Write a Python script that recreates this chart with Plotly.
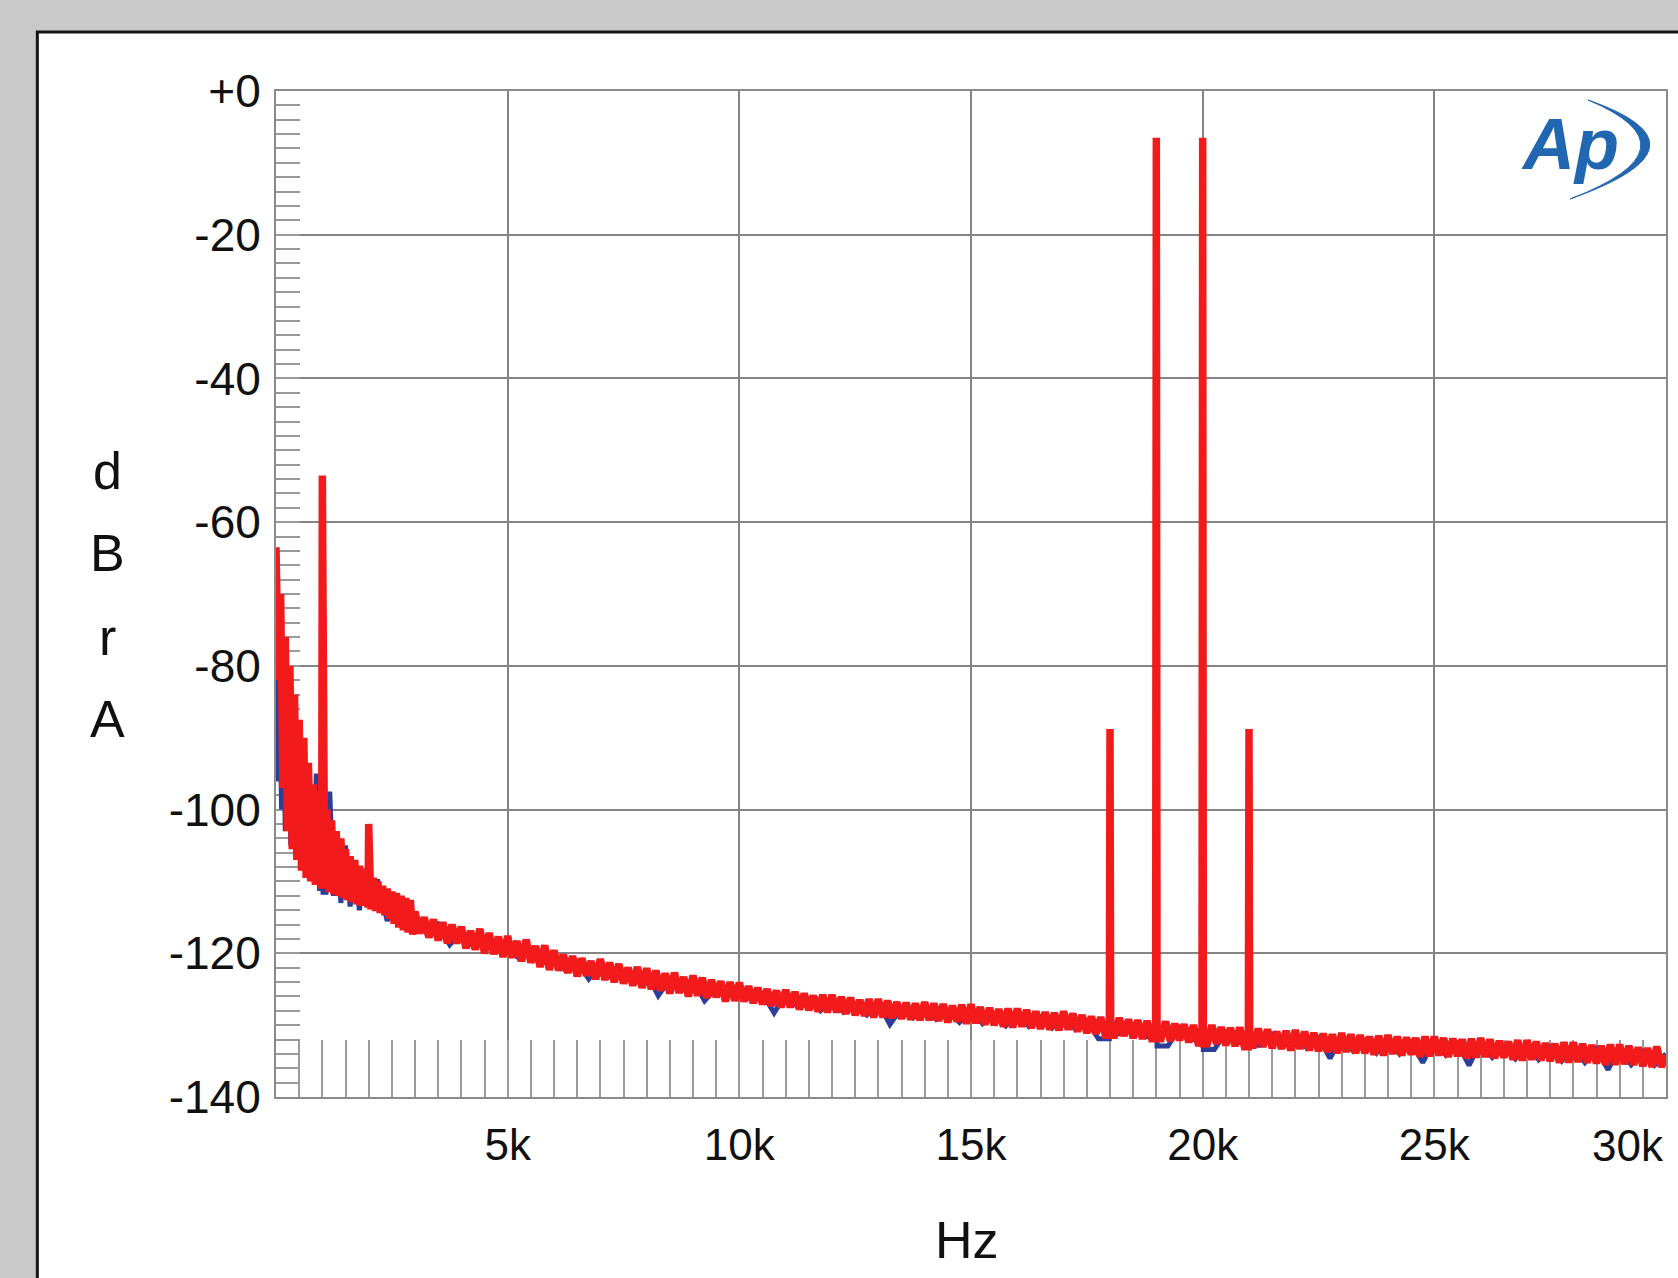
import plotly.graph_objects as go

# ---------------- data ----------------
# Low-frequency part of the red channel (Hz, dBrA)
red_lf_freq = [0, 50, 100, 150, 200, 250, 300, 350, 400, 450, 500, 550, 600, 650, 700, 750,
               800, 850, 900, 950, 1050, 1100, 1150, 1200, 1250, 1300, 1350, 1400, 1450,
               1500, 1550, 1600, 1650, 1700, 1750, 1800, 1850, 1900, 1950, 2050, 2100,
               2150, 2200, 2250, 2300, 2350, 2400, 2450, 2500, 2550, 2600, 2650, 2700,
               2750, 2800, 2850, 2900, 2950]
red_lf_db = [-63.5, -82, -70, -97, -76, -103, -80, -105.5, -84, -107, -87.5, -108.5, -90,
             -109.5, -93.5, -110, -96.5, -110.5, -97.5, -111, -111, -100, -111.5, -101.5,
             -111.8, -103, -112, -104, -112.3, -105.5, -112.6, -106.5, -112.9, -107,
             -113.2, -107.8, -113.4, -108.3, -113.6, -113.9, -109.5, -114.1, -110, -114.4,
             -110.6, -114.7, -111, -115.2, -111.4, -115.9, -111.6, -116.4, -112.0, -116.8,
             -112.3, -117.1, -112.6, -117.4]

# Red channel noise floor, 3 kHz .. 30 kHz every 100 Hz
red_hf_db = [
    -114.2, -117.2, -115.0, -117.8, -115.3, -118.2, -115.7, -118.6, -116.0, -118.6,
    -116.3, -119.3, -116.9, -119.5, -116.6, -120.0, -117.2, -120.1, -117.7, -120.5,
    -117.6, -120.6, -118.3, -121.1, -118.1, -121.3, -119.0, -121.9, -118.9, -122.3,
    -119.6, -122.4, -120.2, -122.7, -120.4, -123.2, -120.7, -123.1, -121.1, -123.6,
    -120.8, -123.7, -121.3, -124.0, -121.5, -124.2, -122.0, -124.5, -121.9, -124.8,
    -122.1, -125.0, -122.4, -125.2, -122.8, -125.6, -122.7, -125.5, -123.3, -126.0,
    -123.1, -125.9, -123.4, -126.2, -123.7, -126.1, -123.9, -126.7, -124.0, -126.6,
    -124.1, -126.7, -124.6, -126.9, -124.8, -127.1, -125.0, -127.3, -125.2, -127.5,
    -125.1, -127.5, -125.4, -127.8, -125.6, -127.9, -125.9, -128.1, -125.8, -128.2,
    -125.8, -128.2, -126.1, -128.4, -126.2, -128.6, -126.5, -128.7, -126.4, -128.9,
    -126.4, -128.9, -126.6, -129.0, -126.8, -129.1, -126.9, -129.2, -127.0, -129.3,
    -126.8, -129.3, -127.0, -129.4, -127.1, -129.6, -127.3, -129.5, -127.2, -129.8,
    -127.1, -129.7, -127.5, -129.9, -127.6, -130.0, -127.8, -130.2, -127.7, -130.3,
    -127.7, -130.2, -127.9, -130.4, -128.1, -130.5, -128.2, -130.6, -128.3, -130.7,
    -128.1, -130.6, -128.4, -130.9, -128.6, -131.1, -128.8, -131.2, -128.9, -131.4,
    -128.8, -131.4, -129.0, -131.5, -129.2, -131.8, -129.3, -131.9, -129.4, -131.9,
    -129.3, -131.9, -129.5, -132.2, -129.8, -132.1, -129.9, -132.4, -130.0, -132.5,
    -129.8, -132.6, -130.0, -132.6, -130.3, -132.8, -130.4, -132.9, -130.3, -133.0,
    -130.2, -132.8, -130.5, -133.0, -130.6, -133.2, -130.9, -133.3, -130.8, -133.5,
    -130.7, -133.3, -130.9, -133.5, -131.1, -133.6, -131.2, -133.7, -131.3, -133.9,
    -131.1, -133.7, -131.3, -133.9, -131.4, -133.9, -131.6, -134.1, -131.5, -134.2,
    -131.4, -134.0, -131.6, -134.2, -131.7, -134.1, -131.8, -134.4, -131.6, -134.3,
    -131.6, -134.2, -131.8, -134.4, -131.9, -134.3, -132.0, -134.6, -131.9, -134.5,
    -131.8, -134.4, -132.0, -134.6, -132.2, -134.5, -132.3, -134.8, -132.1, -134.9,
    -132.1, -134.8, -132.3, -134.9, -132.5, -135.0, -132.6, -135.2, -132.4, -135.2,
    -132.4, -135.1, -132.6, -135.2, -132.8, -135.3, -132.9, -135.5, -132.7, -135.5,
    -132.7, -135.4, -132.9, -135.5, -133.1, -135.7, -133.2, -135.8, -133.0, -135.8,
    -134.2]

# Blue channel
blue_lf_freq = [0, 40, 80, 120, 160, 200, 260, 320, 400, 480, 560, 640, 720, 800, 870, 940,
                1000, 1080, 1160, 1240, 1320, 1400, 1500, 1600, 1700, 1800, 1900, 2000,
                2200, 2400, 2600, 2800]
blue_lf_db = [-66, -96, -84, -100, -86, -103, -88, -105, -90, -107, -92, -109, -95, -110,
              -95, -111, -99, -111.5, -97.5, -112, -103, -113, -105, -113.5, -107.5, -114,
              -108.5, -114.5, -110, -115.5, -112, -116.5]
# 3 kHz .. 30 kHz every 250 Hz
blue_hf_db = [
    -115.0, -117.2, -116.0, -118.8, -117.0, -119.0, -118.0, -119.6,
    -118.6, -120.8, -119.8, -121.4, -120.4, -122.4, -121.2, -123.6,
    -121.6, -123.4, -122.6, -124.1, -122.8, -125.9, -123.6, -125.2,
    -123.8, -126.6, -124.8, -126.0, -124.8, -126.5, -125.6, -128.3,
    -125.7, -127.4, -126.4, -128.0, -126.4, -128.2, -127.2, -128.6,
    -126.9, -129.9, -127.6, -129.0, -127.4, -129.2, -128.0, -129.6,
    -127.8, -129.8, -128.6, -130.1, -128.2, -130.2, -128.9, -130.4,
    -128.7, -130.6, -129.4, -131.9, -129.4, -131.2, -130.0, -131.6,
    -129.8, -132.9, -130.4, -132.0, -130.3, -133.4, -131.0, -132.4,
    -130.7, -132.8, -131.3, -132.9, -131.2, -133.2, -131.8, -134.6,
    -131.6, -133.6, -132.1, -133.9, -131.9, -134.0, -132.4, -135.2,
    -132.1, -134.2, -132.6, -135.6, -132.3, -134.5, -132.9, -134.7,
    -132.6, -134.8, -133.1, -135.0, -133.0, -135.2, -133.4, -136.2,
    -133.2, -135.5, -133.7, -135.6, -134.0]

# discrete tones / spurs (Hz, dBrA)
spike_freq = [1000, 2000, 18000, 19000, 20000, 21000]
spike_db = [-53.5, -102.0, -88.8, -6.5, -6.5, -88.8]

y_tick_vals = [0, -20, -40, -60, -80, -100, -120, -140]
y_tick_text = ["+0", "-20", "-40", "-60", "-80", "-100", "-120", "-140"]
x_tick_vals = [5000, 10000, 15000, 20000, 25000]
x_tick_text = ["5k", "10k", "15k", "20k", "25k"]
x_last_label = "30k"
y_title_letters = ["d", "B", "r", "A"]

# ---------------- helpers ----------------
W, H = 1678, 1278
L, R, T, B = 276, 10, 91, 181
PW, PH = W - L - R, H - T - B


def px(x):
    return (x - L) / PW


def py(y):
    return (H - B - y) / PH


def with_spikes(xs, ys, sf, sd, half=15):
    pts = list(zip(xs, ys))
    for f, d in zip(sf, sd):
        pts = [p for p in pts if abs(p[0] - f) > half + 5]
        left = [p for p in pts if p[0] < f]
        right = [p for p in pts if p[0] > f]
        lv = left[-1][1] if left else d
        rv = right[0][1] if right else d
        pts += [(f - half, lv), (f, d), (f + half, rv)]
        pts.sort(key=lambda p: p[0])
    return [p[0] for p in pts], [p[1] for p in pts]


red_hf_freq = [3000 + 100 * i for i in range(len(red_hf_db))]
blue_hf_freq = [3000 + 250 * i for i in range(len(blue_hf_db))]

rx, ry = with_spikes(red_lf_freq + red_hf_freq, red_lf_db + red_hf_db, spike_freq, spike_db)
bx, by = with_spikes(blue_lf_freq + blue_hf_freq, blue_lf_db + blue_hf_db, spike_freq,
                     [d - 0.5 for d in spike_db])

fig = go.Figure()
fig.add_trace(go.Scatter(x=bx, y=by, mode="lines",
                         line=dict(color="#2a3f9a", width=5), hoverinfo="skip"))
fig.add_trace(go.Scatter(x=rx, y=ry, mode="lines",
                         line=dict(color="#f21a1a", width=7.5), hoverinfo="skip"))

FONT = "Liberation Sans, Arial, sans-serif"
GRID = "#858585"

fig.update_layout(
    width=W, height=H,
    margin=dict(l=L, r=R, t=T, b=B, pad=0),
    paper_bgcolor="#c9c9c9",
    plot_bgcolor="rgba(0,0,0,0)",
    showlegend=False,
    font=dict(family=FONT, color="#111111"),
)

fig.update_xaxes(
    range=[0, 30000],
    tickvals=x_tick_vals, ticktext=x_tick_text,
    tickfont=dict(size=44, family=FONT, color="#111111"),
    ticks="inside", ticklen=57, tickcolor="#9a9a9a", tickwidth=1.5,
    ticklabelstandoff=8,
    showgrid=True, gridcolor=GRID, gridwidth=1.6,
    showline=True, linecolor="#8a8a8a", linewidth=2, mirror=True,
    zeroline=False, layer="below traces",
    minor=dict(dtick=500, tick0=0, ticks="inside", ticklen=57,
               tickcolor="#9a9a9a", tickwidth=1.5, showgrid=False),
)
fig.update_yaxes(
    range=[-140, 0],
    tickvals=y_tick_vals, ticktext=y_tick_text,
    tickfont=dict(size=46, family=FONT, color="#111111"),
    ticks="inside", ticklen=24, tickcolor="#9a9a9a", tickwidth=1.5,
    ticklabelstandoff=4,
    showgrid=True, gridcolor=GRID, gridwidth=1.6,
    showline=True, linecolor="#8a8a8a", linewidth=2, mirror=True,
    zeroline=False, layer="below traces",
    minor=dict(dtick=2, tick0=0, ticks="inside", ticklen=24,
               tickcolor="#9a9a9a", tickwidth=1.5, showgrid=False),
)

# white panel with dark top/left border
fig.add_shape(type="rect", xref="paper", yref="paper",
              x0=px(37), x1=px(W + 20), y0=py(H + 20), y1=py(32),
              fillcolor="white", line=dict(color="#151515", width=3), layer="below")

# vertical stacked y-axis title
for letter, yc in zip(y_title_letters, [471, 553, 637, 719]):
    fig.add_annotation(text=letter, xref="paper", yref="paper", x=px(107), y=py(yc),
                       showarrow=False, xanchor="center", yanchor="middle",
                       font=dict(size=52, family=FONT, color="#111111"))

# x-axis title
fig.add_annotation(text="Hz", xref="paper", yref="paper", x=px(968), y=py(1240),
                   showarrow=False, xanchor="center", yanchor="middle",
                   font=dict(size=52, family=FONT, color="#111111"))

# last x tick label, right-aligned at the plot edge
fig.add_annotation(text=x_last_label, xref="x", yref="paper", x=30000, y=py(1145),
                   showarrow=False, xanchor="right", yanchor="middle",
                   font=dict(size=44, family=FONT, color="#111111"))

# Ap logo
fig.add_annotation(text="<b><i>Ap</i></b>", xref="paper", yref="paper",
                   x=px(1572), y=py(144), showarrow=False,
                   xanchor="center", yanchor="middle",
                   font=dict(size=72, family=FONT, color="#2166b0"))
path = ("M {a},{b} Q {c},{d} {e},{f} Q {g},{h} {a},{b} Z").format(
    a=px(1590), b=py(100), c=px(1722), d=py(146), e=px(1572), f=py(199),
    g=px(1704), h=py(148))
fig.add_shape(type="path", xref="paper", yref="paper", path=path,
              fillcolor="#2166b0", line=dict(color="#2166b0", width=1))

fig.write_html("out.html", config={"displayModeBar": False},
               post_script="document.body.style.margin='0';")
